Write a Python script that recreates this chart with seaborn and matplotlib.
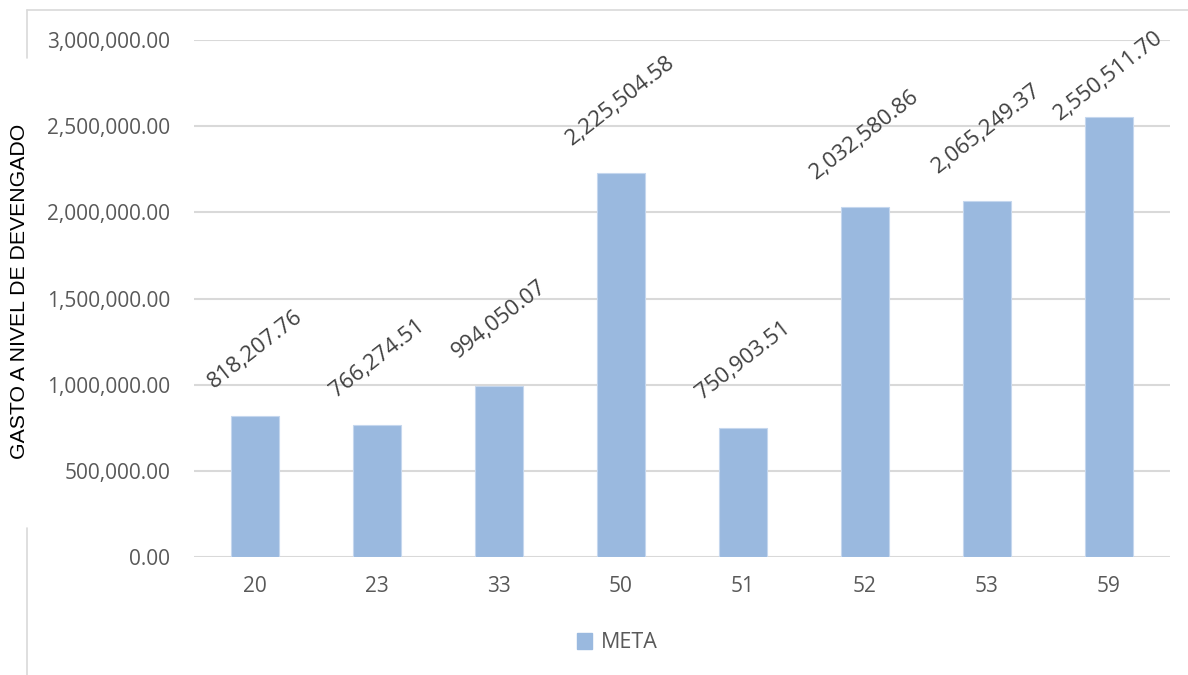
import numpy as np
import pandas as pd
import matplotlib
matplotlib.use("Agg")
import matplotlib.pyplot as plt
import seaborn as sns
from matplotlib.lines import Line2D
from matplotlib.ticker import FuncFormatter

# data
metas = ["20", "23", "33", "50", "51", "52", "53", "59"]
gasto = [818207.76, 766274.51, 994050.07, 2225504.58,
         750903.51, 2032580.86, 2065249.37, 2550511.70]

df = pd.DataFrame({"META": metas, "Gasto": gasto})

sns.set_theme(style="white")
plt.rcParams['font.family'] = ['Open Sans', 'DejaVu Sans']

W, H = 1188, 675
fig = plt.figure(figsize=(W / 100, H / 100), dpi=100)
ax = fig.add_axes([194 / W, 1 - 557 / H, (1170 - 194) / W, (557 - 40) / H])

bar_color = "#9AB9DF"
sns.barplot(data=df, x="META", y="Gasto", color=bar_color, saturation=1,
            width=0.4, ax=ax, edgecolor="#C5D7EE", linewidth=0.8, zorder=3)

ax.set_ylim(0, 3000000)
ax.set_xlim(-0.5, len(metas) - 0.5)
ax.set_yticks(np.arange(0, 3000001, 500000))
ax.yaxis.set_major_formatter(FuncFormatter(lambda v, p: f"{v:,.2f}"))
ax.grid(axis="y", color="#D9D9D9", linewidth=1.5, zorder=0)
ax.set_axisbelow(True)
for s in ax.spines.values():
    s.set_visible(False)
ax.tick_params(axis="both", length=0, labelsize=15, colors="#595959")
ax.tick_params(axis="y", pad=17)
ax.tick_params(axis="x", pad=14)
ax.set_xlabel("")
ax.set_ylabel("")

# data labels above each bar, rotated
labels = []
for i, v in enumerate(gasto):
    t = ax.annotate(f"{v:,.2f}", xy=(i, v), xytext=(0, 17), textcoords="offset points",
                    ha="center", va="bottom", rotation=38, fontsize=16, color="#404040",
                    annotation_clip=False)
    labels.append(t)

# keep labels inside the chart area (like the spreadsheet does)
fig.canvas.draw()
r = fig.canvas.get_renderer()
top_limit = H - 27
for t in labels:
    bb = t.get_window_extent(r)
    if bb.y1 > top_limit:
        dx, dy = t.xyann
        t.xyann = (dx, dy - (bb.y1 - top_limit) * 72 / 100)

# y axis title
fig.text(20 / W, 1 - 291 / H, "GASTO A NIVEL DE DEVENGADO", rotation=90,
         ha="center", va="center", fontsize=15.3, color="black",
         family=["Liberation Sans", "DejaVu Sans"])

# legend at bottom
handles = [plt.Rectangle((0, 0), 1, 1, color=bar_color)]
fig.legend(handles, ["META"], loc="center", bbox_to_anchor=(617 / W, 1 - 643 / H),
           frameon=False, fontsize=15.5, handlelength=0.7, handleheight=0.7,
           handletextpad=0.4, labelcolor="#595959")

# chart area border (partly hidden behind the axis title)
bc = "#D9D9D9"
fig.add_artist(Line2D([27 / W, 1], [1 - 10 / H, 1 - 10 / H], color=bc, lw=1.2))
fig.add_artist(Line2D([27 / W, 27 / W], [1 - 10 / H, 1 - 58 / H], color=bc, lw=1.2))
fig.add_artist(Line2D([27 / W, 27 / W], [1 - 528 / H, 0], color=bc, lw=1.2))

fig.savefig("out.png", dpi=100)
